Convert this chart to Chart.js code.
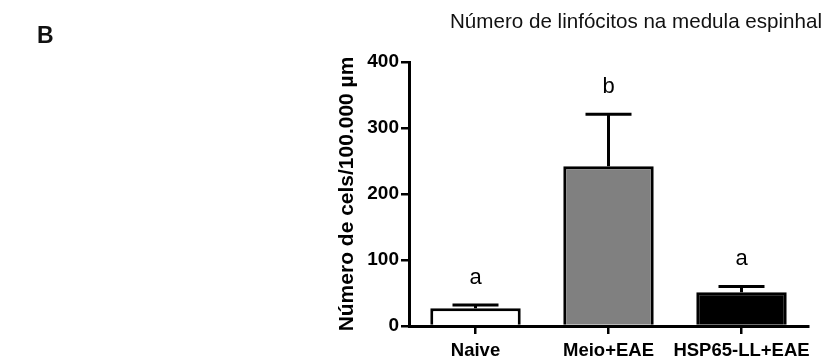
<!DOCTYPE html>
<html><head><meta charset="utf-8">
<script src="https://cdn.jsdelivr.net/npm/chart.js@4"></script>
<style>html,body{margin:0;padding:0;background:#fff;}#wrap{width:825px;height:363px;}</style>
</head><body><div id="wrap"><canvas id="c" width="825" height="363"></canvas></div>
<script>
const categories = ['Naive', 'Meio+EAE', 'HSP65-LL+EAE'];
const means = [27, 242, 51];
const sem = [5, 79, 9];
const letters = ['a', 'b', 'a'];
const fills = ['#ffffff', '#808080', '#000000'];
const yMin = 0, yMax = 400, yStep = 100;
const chartTitle = 'Número de linfócitos na medula espinhal';
const yTitle = 'Número de cels/100.000 µm';
const panelLabel = 'B';

const FONT = '"Liberation Sans", Arial, sans-serif';

const extras = {
  id: 'extras',
  afterDatasetsDraw(chart) {
    const ctx = chart.ctx;
    const xs = chart.scales.x, ys = chart.scales.y;
    ctx.save();
    ctx.strokeStyle = '#000';
    ctx.lineWidth = 3;
    means.forEach((m, i) => {
      const x = xs.getPixelForValue(i);
      const y0 = ys.getPixelForValue(m);
      const y1 = ys.getPixelForValue(m + sem[i]);
      ctx.beginPath();
      ctx.moveTo(x, y0); ctx.lineTo(x, y1);
      ctx.moveTo(x - 23, y1); ctx.lineTo(x + 23, y1);
      ctx.stroke();
      ctx.fillStyle = '#000';
      ctx.font = '22px ' + FONT;
      ctx.textAlign = 'center';
      ctx.textBaseline = 'middle';
      ctx.fillText(letters[i], x, y1 - 27);
    });
    ctx.font = '20.6px ' + FONT;
    ctx.fillStyle = '#111';
    ctx.textAlign = 'center';
    ctx.textBaseline = 'middle';
    ctx.fillText(chartTitle, 636, 22);
    ctx.font = 'bold 23px ' + FONT;
    ctx.textAlign = 'left';
    ctx.fillText(panelLabel, 37, 37);
    ctx.restore();
  }
};

new Chart(document.getElementById('c'), {
  type: 'bar',
  data: {
    labels: categories,
    datasets: [{
      data: means,
      backgroundColor: fills,
      borderColor: '#000',
      borderWidth: 3,
      borderSkipped: 'bottom',
      barPercentage: 0.68,
      categoryPercentage: 1.0
    }]
  },
  options: {
    responsive: false,
    animation: false,
    devicePixelRatio: 1,
    layout: { padding: { left: 333, right: 17, top: 62, bottom: 0 } },
    plugins: { legend: { display: false }, tooltip: { enabled: false } },
    scales: {
      x: {
        afterFit(s) { s.height = 37; },
        grid: { display: true, drawOnChartArea: false, tickLength: 8, color: '#000', lineWidth: 2.5, offset: false },
        border: { display: true, color: '#000', width: 3 },
        ticks: { color: '#000', padding: 6, autoSkip: false, font: { family: FONT, size: 18.5, weight: 'bold' }, maxRotation: 0, minRotation: 0 }
      },
      y: {
        min: yMin, max: yMax,
        afterFit(s) { s.width = 76; },
        grid: { display: true, drawOnChartArea: false, tickLength: 8, color: '#000', lineWidth: 2.5 },
        border: { display: true, color: '#000', width: 3 },
        ticks: { stepSize: yStep, color: '#000', padding: 2, font: { family: FONT, size: 19, weight: 'bold' } },
        title: { display: true, text: yTitle, color: '#000', padding: { top: 2, bottom: 0 }, font: { family: FONT, size: 21, weight: 'bold' } }
      }
    }
  },
  plugins: [extras]
});
</script></body></html>
